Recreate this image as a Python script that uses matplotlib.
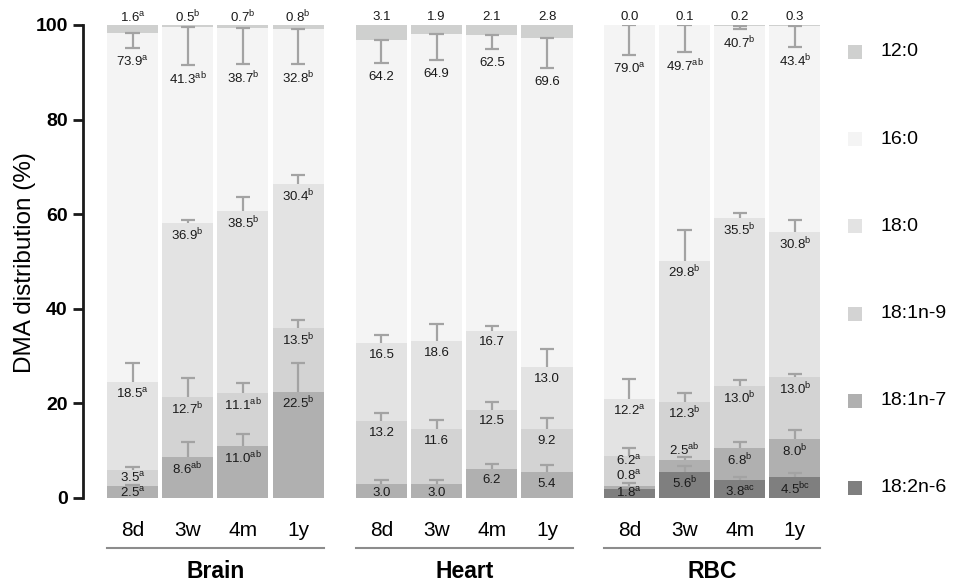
import matplotlib
matplotlib.use("Agg")
import matplotlib.pyplot as plt
import matplotlib.transforms as mtransforms
from matplotlib.patches import Rectangle
import numpy as np

plt.rcParams["font.family"] = ["Liberation Sans", "DejaVu Sans"]
plt.rcParams["mathtext.fontset"] = "custom"
plt.rcParams["mathtext.rm"] = "Liberation Sans"

tissues = ["Brain", "Heart", "RBC"]
ages = ["8d", "3w", "4m", "1y"]
# stacking order, bottom to top
fatty_acids = ["18:2n-6", "18:1n-7", "18:1n-9", "18:0", "16:0", "12:0"]
colors = ["#7f7f7f", "#b0b0b0", "#d3d3d3", "#e3e3e3", "#f4f4f4", "#cfd0cf"]

# % of total DMA, columns: Brain 8d..1y, Heart 8d..1y, RBC 8d..1y
nan = np.nan
pct_18_2n6 = [nan, nan, nan, nan, nan, nan, nan, nan, 1.8, 5.6, 3.8, 4.5]
pct_18_1n7 = [2.5, 8.6, 11.0, 22.5, 3.0, 3.0, 6.2, 5.4, 0.8, 2.5, 6.8, 8.0]
pct_18_1n9 = [3.5, 12.7, 11.1, 13.5, 13.2, 11.6, 12.5, 9.2, 6.2, 12.3, 13.0, 13.0]
pct_18_0 = [18.5, 36.9, 38.5, 30.4, 16.5, 18.6, 16.7, 13.0, 12.2, 29.8, 35.5, 30.8]
pct_16_0 = [73.9, 41.3, 38.7, 32.8, 64.2, 64.9, 62.5, 69.6, 79.0, 49.7, 40.7, 43.4]
pct_12_0 = [1.6, 0.5, 0.7, 0.8, 3.1, 1.9, 2.1, 2.8, 0.0, 0.1, 0.2, 0.3]

sd_18_2n6 = [0, 0, 0, 0, 0, 0, 0, 0, 0.3, 1.2, 0.6, 0.7]
sd_18_1n7 = [0.3, 3.2, 2.5, 6.0, 0.8, 0.7, 0.9, 1.5, 0.6, 0.6, 1.2, 1.9]
sd_18_1n9 = [0.5, 4.1, 2.2, 1.6, 1.8, 1.9, 1.6, 2.3, 1.8, 1.8, 1.4, 0.7]
sd_18_0 = [4.0, 0.6, 3.0, 1.9, 1.8, 3.6, 1.0, 3.9, 4.2, 6.5, 1.2, 2.5]
sd_16_0 = [3.3, 8.0, 7.6, 7.5, 4.9, 5.5, 3.0, 6.2, 6.3, 5.6, 0.6, 4.4]
sd_12_0 = [0] * 12

sig_18_2n6 = [""] * 8 + ["a", "b", "ac", "bc"]
sig_18_1n7 = ["a", "ab", "ab", "b"] + [""] * 4 + ["a", "ab", "b", "b"]
sig_18_1n9 = ["a", "b", "ab", "b"] + [""] * 4 + ["a", "b", "b", "b"]
sig_18_0 = ["a", "b", "b", "b"] + [""] * 4 + ["a", "b", "b", "b"]
sig_16_0 = ["a", "ab", "b", "b"] + [""] * 4 + ["a", "ab", "b", "b"]
sig_12_0 = ["a", "b", "b", "b"] + [""] * 8

pct = np.array([pct_18_2n6, pct_18_1n7, pct_18_1n9, pct_18_0, pct_16_0, pct_12_0])
sd = np.array([sd_18_2n6, sd_18_1n7, sd_18_1n9, sd_18_0, sd_16_0, sd_12_0])
sig = [sig_18_2n6, sig_18_1n7, sig_18_1n9, sig_18_0, sig_16_0, sig_12_0]

group_start = [0, 4.51, 9.0]
xpos = np.concatenate([g + np.arange(len(ages)) for g in group_start])
bar_w = 0.927
cap_w = 0.26
err_color = "#a3a3a3"


def label(v, s):
    txt = f"{v:.1f}"
    if s:
        txt += r"$^{\mathrm{" + s + "}}$"
    return txt


fig = plt.figure(figsize=(9.61, 5.81), dpi=100)
ax = fig.add_axes([83 / 961, 1 - 498 / 581, (830 - 83) / 961, 473 / 581])

heights = np.nan_to_num(pct)
bottoms = np.vstack([np.zeros(heights.shape[1]), np.cumsum(heights, axis=0)[:-1]])
for k, fa in enumerate(fatty_acids):
    ax.bar(xpos, heights[k], bottom=bottoms[k], width=bar_w, color=colors[k],
           linewidth=0, zorder=2)

for j, x in enumerate(xpos):
    prev = -np.inf
    first = True
    for k, fa in enumerate(fatty_acids):
        v = pct[k, j]
        if np.isnan(v):
            continue
        top = bottoms[k, j] + heights[k, j]
        e = sd[k, j]
        if fa == "12:0":
            y = 101.6
        elif fa == "16:0":
            ax.vlines(x, top - e, top, color=err_color, lw=1.6, zorder=3)
            ax.hlines([top - e, top], x - cap_w / 2, x + cap_w / 2, color=err_color,
                      lw=1.6, zorder=3)
            y = top - e - 3.0
        else:
            if e > 0:
                ax.vlines(x, top, top + e, color=err_color, lw=1.6, zorder=3)
                ax.hlines(top + e, x - cap_w / 2, x + cap_w / 2, color=err_color,
                          lw=1.6, zorder=3)
            if first:
                y = max(top - 2.5, 1.0)
            elif v < 3:
                y = top + e + 1.4
            else:
                y = max(top - 2.5, prev + 3.2)
        first = False
        prev = y
        ax.text(x, y, label(v, sig[k][j]), ha="center", va="center",
                fontsize=9.5, color="#1a1a1a", zorder=4, clip_on=False)

ax.set_ylim(0, 100)
ax.set_xlim((83 - 132.5) / 55.2, (830 - 132.5) / 55.2)
ax.set_yticks(np.arange(0, 101, 20))
ax.tick_params(axis="y", length=7, width=2, labelsize=14, color="#1a1a1a", pad=4)
for t in ax.get_yticklabels():
    t.set_fontweight("bold")
ax.set_xticks([])
for side in ["top", "right", "bottom"]:
    ax.spines[side].set_visible(False)
ax.spines["left"].set_linewidth(2)
ax.spines["left"].set_color("#1a1a1a")

trans = mtransforms.blended_transform_factory(ax.transData, ax.transAxes)
for j, x in enumerate(xpos):
    ax.text(x, -0.068, ages[j % len(ages)], transform=trans, ha="center",
            va="center", fontsize=15, clip_on=False)
for g, name in zip(group_start, tissues):
    left, right = g - bar_w / 2, g + 3 + bar_w / 2
    ax.plot([left, right], [-0.106, -0.106], transform=trans, color="#8c8c8c",
            lw=1.5, clip_on=False)
    ax.text((left + right) / 2, -0.155, name, transform=trans, ha="center",
            va="center", fontsize=16.5, fontweight="bold", clip_on=False)

fig.text(25 / 961, 1 - 263 / 581, "DMA distribution (%)", rotation=90,
         ha="center", va="center", fontsize=17.5)

# legend, top entry first
legend_y = np.linspace(52, 488, len(fatty_acids))
for yy, fa, c in zip(legend_y, fatty_acids[::-1], colors[::-1]):
    fig.patches.append(Rectangle((848 / 961, 1 - (yy + 7) / 581), 14 / 961, 14 / 581,
                                 transform=fig.transFigure, color=c, linewidth=0))
    fig.text(880 / 961, 1 - yy / 581, fa, ha="left", va="center", fontsize=14)

fig.savefig("out.png", dpi=100)
